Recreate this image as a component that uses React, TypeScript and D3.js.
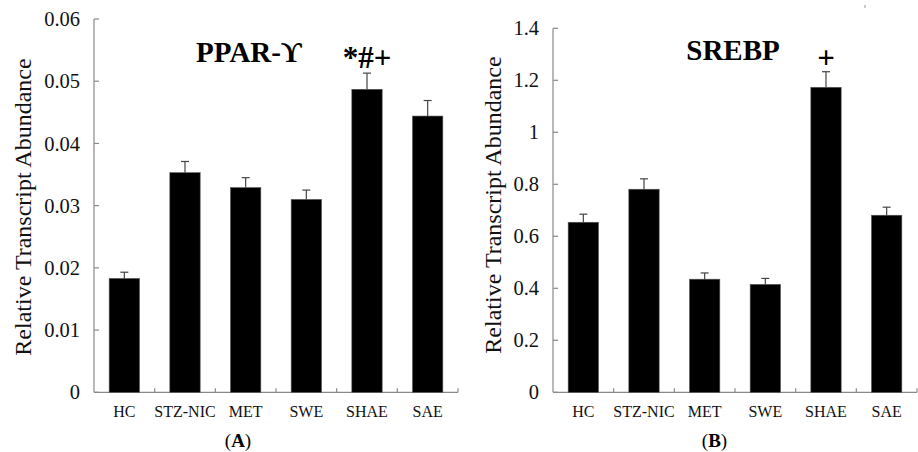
import React from "react";
import * as d3 from "d3";

const categories = ["HC", "STZ-NIC", "MET", "SWE", "SHAE", "SAE"];
const pparValues = [0.0183, 0.0353, 0.0329, 0.0310, 0.0487, 0.0444];
const pparErrors = [0.0010, 0.0018, 0.0016, 0.0015, 0.0026, 0.0025];
const pparTicks = [0, 0.01, 0.02, 0.03, 0.04, 0.05, 0.06];
const srebpValues = [0.654, 0.781, 0.435, 0.415, 1.173, 0.681];
const srebpErrors = [0.031, 0.040, 0.024, 0.023, 0.060, 0.031];
const srebpTicks = [0, 0.2, 0.4, 0.6, 0.8, 1, 1.2, 1.4];

type PanelProps = {
  x0: number;
  x1: number;
  yTop: number;
  yBottom: number;
  max: number;
  values: number[];
  errors: number[];
  ticks: number[];
  tickFmt: (v: number) => string;
  title: string;
  titleX: number;
  titleY: number;
  mark: string;
  markIndex: number;
  markY: number;
  letter: string;
  letterX: number;
  ylabelX: number;
  ylabelY: number;
};

const serif = "'Liberation Serif', 'Times New Roman', serif";

function Panel(p: PanelProps) {
  const x = d3.scaleBand<string>().domain(categories).range([p.x0, p.x1]).paddingInner(0).paddingOuter(0);
  const y = d3.scaleLinear().domain([0, p.max]).range([p.yBottom, p.yTop]);
  const bw = x.bandwidth() * 0.5;
  const axisColor = "#8a8a8a";
  return (
    <g>
      <line x1={p.x0} x2={p.x0} y1={y(p.max)} y2={y(0)} stroke={axisColor} strokeWidth={1.2} />
      {p.ticks.map((t) => (
        <g key={t}>
          <line x1={p.x0} x2={p.x0 + 5} y1={y(t)} y2={y(t)} stroke={axisColor} strokeWidth={1.2} />
          <text x={p.x0 - 14} y={y(t)} dy="0.35em" textAnchor="end" fontFamily={serif} fontSize={20.5} fill="#111">
            {p.tickFmt(t)}
          </text>
        </g>
      ))}
      <line x1={p.x0} x2={p.x1} y1={y(0)} y2={y(0)} stroke={axisColor} strokeWidth={1.2} />
      {categories.map((c) => (
        <line key={"t" + c} x1={(x(c) as number) + x.bandwidth()} x2={(x(c) as number) + x.bandwidth()}
          y1={y(0)} y2={y(0) - 4} stroke={axisColor} strokeWidth={1.2} />
      ))}
      {categories.map((c) => (
        <text key={"l" + c} x={(x(c) as number) + x.bandwidth() / 2} y={y(0) + 24.5} textAnchor="middle"
          fontFamily={serif} fontSize={16} fill="#111">
          {c}
        </text>
      ))}
      {categories.map((c, i) => {
        const cx = (x(c) as number) + x.bandwidth() / 2;
        const top = y(p.values[i]);
        const et = y(p.values[i] + p.errors[i]);
        return (
          <g key={"b" + c}>
            <line x1={cx} x2={cx} y1={top} y2={et} stroke="#444" strokeWidth={1.2} />
            <line x1={cx - 4} x2={cx + 4} y1={et} y2={et} stroke="#444" strokeWidth={1.2} />
            <rect x={cx - bw / 2} y={top} width={bw} height={y(0) - top} fill="#000" stroke="#555" strokeWidth={0.6} />
          </g>
        );
      })}
      <text x={p.titleX} y={p.titleY} textAnchor="middle" fontFamily={serif} fontWeight="bold" fontSize={29} fill="#000">
        {p.title}
      </text>
      <text x={(x(categories[p.markIndex]) as number) + x.bandwidth() / 2} y={p.markY} textAnchor="middle"
        fontFamily={serif} fontWeight="bold" fontSize={31} fill="#000">
        {p.mark}
      </text>
      <text transform={`translate(${p.ylabelX},${p.ylabelY}) rotate(-90)`} textAnchor="middle"
        dy="0.35em" fontFamily={serif} fontSize={24} fill="#111">
        Relative Transcript Abundance
      </text>
      <text x={p.letterX} y={447} textAnchor="middle" fontFamily={serif} fontSize={19} fill="#000">
        (<tspan fontWeight="bold">{p.letter}</tspan>)
      </text>
    </g>
  );
}

export default function App() {
  return (
    <svg width={918} height={452} style={{ position: "absolute", left: 0, top: 0, background: "#fff" }}>
      <rect width={918} height={452} fill="#fff" />
      <Panel x0={94} x1={458} yTop={19} yBottom={392.3} max={0.06} values={pparValues} errors={pparErrors}
        ticks={pparTicks} tickFmt={(v) => (v === 0 ? "0" : d3.format(".2f")(v))}
        title="PPAR-ϒ" titleX={249} titleY={62} mark="*#+" markIndex={4} markY={68}
        letter="A" letterX={238} ylabelX={23} ylabelY={207} />
      <Panel x0={553} x1={917} yTop={28.3} yBottom={392.3} max={1.4} values={srebpValues} errors={srebpErrors}
        ticks={srebpTicks} tickFmt={(v) => d3.format("~g")(v)}
        title="SREBP" titleX={733} titleY={60} mark="+" markIndex={4} markY={68}
        letter="B" letterX={714.5} ylabelX={493} ylabelY={205} />
      <rect x={864} y={5} width={2} height={3} fill="#ccc" />
    </svg>
  );
}
